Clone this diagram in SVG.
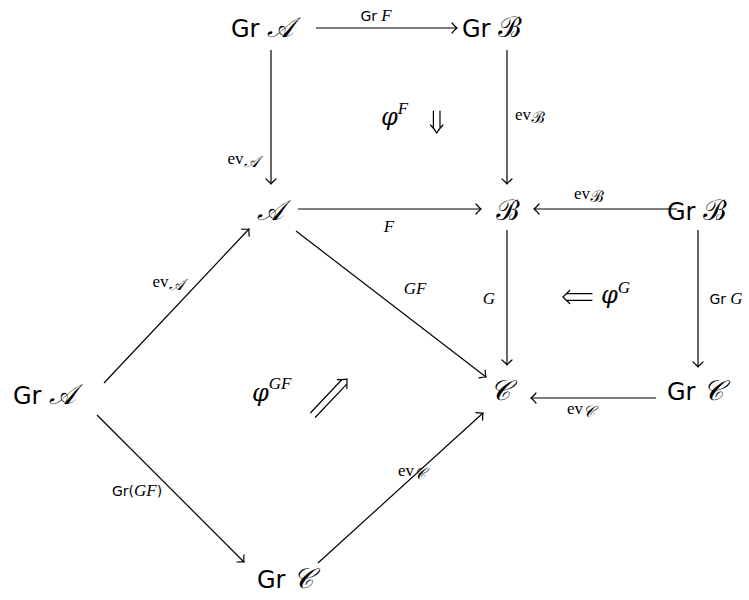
<svg xmlns="http://www.w3.org/2000/svg" width="749" height="600" viewBox="0 0 749 600">
<defs>
<marker id="to" markerUnits="userSpaceOnUse" markerWidth="14" markerHeight="14" refX="0" refY="0" viewBox="-8 -7 10 14" orient="auto">
<path d="M -5 -5 Q -1.5 -1 0 0 Q -1.5 1 -5 5" fill="none" stroke="#000" stroke-width="1.2" stroke-linecap="round"/>
</marker>
<style>
.n{font-family:"DejaVu Sans","Liberation Sans",sans-serif;font-size:24px;fill:#000}
.s{font-family:"DejaVu Sans","Liberation Sans",sans-serif}
.cal{font-family:"DejaVu Serif","Noto Sans","Liberation Serif",serif;font-style:italic;font-size:28px}
.sub{font-family:"DejaVu Serif","Noto Sans","Liberation Serif",serif;font-style:italic;font-size:16px}
.m{font-family:"Liberation Serif","DejaVu Serif",serif;font-style:italic}
.phi{font-family:"DejaVu Serif","Liberation Serif",serif;font-style:italic}
.r{font-family:"Liberation Serif","DejaVu Serif",serif}
.l{font-size:17px;fill:#000}
.e{stroke:#000;stroke-width:1.2;fill:none;marker-end:url(#to)}
.d{stroke:#000;stroke-width:1.2;fill:none;stroke-linecap:round}
</style>
</defs>
<rect width="749" height="600" fill="#fff"/>
<g id="connectors">
<line class="e" x1="316" y1="28" x2="457" y2="28"/>
<line class="e" x1="271" y1="50" x2="271" y2="184"/>
<line class="e" x1="507" y1="50" x2="507" y2="184"/>
<line class="e" x1="298" y1="209" x2="481" y2="209"/>
<line class="e" x1="677" y1="209" x2="534" y2="209"/>
<line class="e" x1="507" y1="230" x2="507" y2="365"/>
<line class="e" x1="698" y1="230" x2="698" y2="367"/>
<line class="e" x1="656" y1="398" x2="531" y2="398"/>
<line class="e" x1="296" y1="231" x2="486" y2="377"/>
<line class="e" x1="104" y1="383" x2="249" y2="229"/>
<line class="e" x1="97" y1="415" x2="244" y2="562"/>
<line class="e" x1="318" y1="563" x2="483" y2="413"/>
<text class="l" x="376" y="21" text-anchor="middle"><tspan class="s" font-size="14">Gr</tspan> <tspan class="m">F</tspan></text>
<text class="l" x="243" y="164" text-anchor="middle"><tspan class="r">ev</tspan><tspan class="sub" dy="3">𝒜</tspan></text>
<text class="l" x="530" y="120" text-anchor="middle"><tspan class="r">ev</tspan><tspan class="sub" dy="3">ℬ</tspan></text>
<text class="l" x="389" y="232" text-anchor="middle"><tspan class="m">F</tspan></text>
<text class="l" x="589" y="199" text-anchor="middle"><tspan class="r">ev</tspan><tspan class="sub" dy="3">ℬ</tspan></text>
<text class="l" x="489" y="304" text-anchor="middle"><tspan class="m">G</tspan></text>
<text class="l" x="726" y="304" text-anchor="middle"><tspan class="s" font-size="14">Gr</tspan> <tspan class="m">G</tspan></text>
<text class="l" x="581" y="414" text-anchor="middle"><tspan class="r">ev</tspan><tspan class="sub" dy="3">𝒞</tspan></text>
<text class="l" x="415" y="294" text-anchor="middle"><tspan class="m">GF</tspan></text>
<text class="l" x="168" y="287" text-anchor="middle"><tspan class="r">ev</tspan><tspan class="sub" dy="3">𝒜</tspan></text>
<text class="l" x="137" y="496" text-anchor="middle"><tspan class="s" font-size="14">Gr(</tspan><tspan class="m">GF</tspan><tspan class="s" font-size="14">)</tspan></text>
<text class="l" x="412" y="476" text-anchor="middle"><tspan class="r">ev</tspan><tspan class="sub" dy="3">𝒞</tspan></text>
</g>
<g id="cells">
<text x="381" y="125" font-size="24"><tspan class="phi">φ</tspan><tspan class="m" font-size="17" dy="-11">F</tspan></text>
<path class="d" d="M433.4 111 V128 M440 111 V128 M430.5 125 Q434.5 129 436.7 133 Q439 129 443 125"/>
<text x="601" y="303" font-size="24"><tspan class="phi">φ</tspan><tspan class="m" font-size="17" dy="-10">G</tspan></text>
<path class="d" d="M592 293.7 H567 M592 300.3 H567 M569.7 290.5 Q566 294 563 297 Q566 300 569.7 303.5"/>
<text x="252" y="401" font-size="24"><tspan class="phi">φ</tspan><tspan class="m" font-size="17" dy="-12">GF</tspan></text>
<path class="d" transform="translate(313,415) rotate(-46.6)" d="M0 -3.3 H45 M0 3.3 H45 M42.5 -6.5 Q46 -3 49.5 0 Q46 3 42.5 6.5"/>
</g>
<g id="GrA_top"><text class="n" x="262" y="37" text-anchor="middle">Gr <tspan class="cal">𝒜</tspan></text></g>
<g id="GrB_top"><text class="n" x="492" y="37" text-anchor="middle">Gr <tspan class="cal">ℬ</tspan></text></g>
<g id="A"><text class="n" x="270" y="220" text-anchor="middle"><tspan class="cal">𝒜</tspan></text></g>
<g id="B"><text class="n" x="508" y="220" text-anchor="middle"><tspan class="cal">ℬ</tspan></text></g>
<g id="GrB_right"><text class="n" x="697" y="220" text-anchor="middle">Gr <tspan class="cal">ℬ</tspan></text></g>
<g id="C"><text class="n" x="500" y="400" text-anchor="middle"><tspan class="cal">𝒞</tspan></text></g>
<g id="GrC_right"><text class="n" x="695" y="400" text-anchor="middle">Gr <tspan class="cal">𝒞</tspan></text></g>
<g id="GrA_left"><text class="n" x="44" y="404" text-anchor="middle">Gr <tspan class="cal">𝒜</tspan></text></g>
<g id="GrC_bottom"><text class="n" x="285" y="588" text-anchor="middle">Gr <tspan class="cal">𝒞</tspan></text></g>
</svg>
